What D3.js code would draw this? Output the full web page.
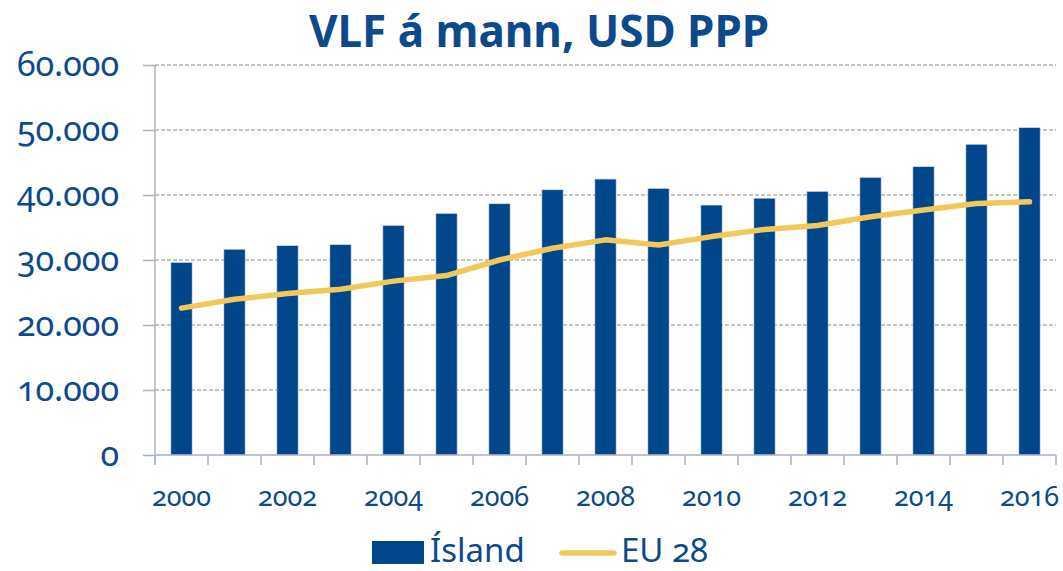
<!DOCTYPE html>
<html>
<head>
<meta charset="utf-8">
<script src="https://cdn.jsdelivr.net/npm/d3@7"></script>
<style>
  body { margin: 0; background: #fff; }
  svg text { font-family: "Noto Sans", "Open Sans", sans-serif; fill: #0d4a8c; font-feature-settings: "onum"; }
</style>
</head>
<body>
<div id="chart"></div>
<script>
// ── Data ──
const years = ['2000','2001','2002','2003','2004','2005','2006','2007','2008',
               '2009','2010','2011','2012','2013','2014','2015','2016'];
const iceland = [29600, 31650, 32200, 32350, 35300, 37150, 38650, 40800, 42450,
                 41000, 38450, 39500, 40550, 42700, 44350, 47800, 50350];
const eu28 = [22600, 23950, 24850, 25500, 26750, 27600, 30000, 31800, 33100,
              32300, 33600, 34700, 35300, 36650, 37700, 38700, 38950];
const yTicks = [0, 10000, 20000, 30000, 40000, 50000, 60000];
const xLabels = ['2000','2002','2004','2006','2008','2010','2012','2014','2016'];

const W = 1063, H = 571;
const margin = { top: 65, right: 7, bottom: 116, left: 155 };
const width = W - margin.left - margin.right;
const height = H - margin.top - margin.bottom;

const blue = '#00468b';
const gold = '#f3c85a';
const axisCol = '#a9b0cb';

const svg = d3.select('#chart').append('svg')
  .attr('width', W).attr('height', H);

// Title
svg.append('text')
  .attr('x', 539).attr('y', 47)
  .attr('text-anchor', 'middle')
  .style('font-size', '44px')
  .style('font-weight', '700')
  .style('font-feature-settings', 'normal')
  .text('VLF á mann, USD PPP');

const g = svg.append('g')
  .attr('transform', `translate(${margin.left},${margin.top})`);

const xCat = d3.scaleBand().domain(years).range([0, width]);
const x = d3.scaleBand().domain(years).range([0, width])
  .paddingInner(0.6).paddingOuter(0.3);
const y = d3.scaleLinear().domain([0, 60000]).range([height, 0]);

// Gridlines
g.selectAll('.grid')
  .data(yTicks.filter(d => d > 0))
  .enter().append('line')
  .attr('x1', 0).attr('x2', width)
  .attr('y1', d => y(d)).attr('y2', d => y(d))
  .attr('stroke', '#8c8c7c')
  .attr('stroke-width', 1)
  .attr('stroke-dasharray', '4,2');

// Bars
g.selectAll('.bar')
  .data(years)
  .enter().append('rect')
  .attr('x', d => x(d))
  .attr('y', (d, i) => y(iceland[i]))
  .attr('width', x.bandwidth())
  .attr('height', (d, i) => height - y(iceland[i]))
  .attr('fill', blue)
  .attr('stroke', '#c9d2e6')
  .attr('stroke-width', 0.6);

// Y axis
const yAxis = g.append('g')
  .call(d3.axisLeft(y).tickValues(yTicks).tickSize(12).tickPadding(24)
    .tickFormat(d => d3.format(',')(d).replace(/,/g, '.')));
yAxis.select('.domain').remove();
yAxis.selectAll('line').attr('stroke', axisCol).attr('stroke-width', 1.5);
yAxis.selectAll('text').style('font-size', '34px').attr('fill', '#0d4a8c');
g.append('line')
  .attr('x1', 0).attr('x2', 0)
  .attr('y1', y(60000)).attr('y2', height + 10)
  .attr('stroke', axisCol).attr('stroke-width', 1.5);

// X axis
g.append('line')
  .attr('x1', 0).attr('x2', width)
  .attr('y1', height).attr('y2', height)
  .attr('stroke', axisCol).attr('stroke-width', 1.5);
g.selectAll('.xtick')
  .data(years.concat(['end']))
  .enter().append('line')
  .attr('x1', d => d === 'end' ? width : xCat(d))
  .attr('x2', d => d === 'end' ? width : xCat(d))
  .attr('y1', height).attr('y2', height + 10)
  .attr('stroke', axisCol).attr('stroke-width', 1.5);
g.selectAll('.xlabel')
  .data(xLabels)
  .enter().append('text')
  .attr('x', d => xCat(d) + xCat.bandwidth() / 2)
  .attr('y', height + 51)
  .attr('text-anchor', 'middle')
  .style('font-size', '27px')
  .text(d => d);

// EU 28 line
g.append('path')
  .datum(eu28)
  .attr('fill', 'none')
  .attr('stroke', gold)
  .attr('stroke-width', 5.5)
  .attr('stroke-linecap', 'round')
  .attr('stroke-linejoin', 'round')
  .attr('d', d3.line()
    .x((d, i) => xCat(years[i]) + xCat.bandwidth() / 2)
    .y(d => y(d)));

// Legend
const legend = svg.append('g');
legend.append('rect')
  .attr('x', 372).attr('y', 541)
  .attr('width', 52).attr('height', 23)
  .attr('fill', blue);
legend.append('text')
  .attr('x', 430).attr('y', 562)
  .style('font-size', '33px')
  .text('Ísland');
legend.append('line')
  .attr('x1', 562).attr('x2', 614)
  .attr('y1', 553).attr('y2', 553)
  .attr('stroke', gold).attr('stroke-width', 5.5)
  .attr('stroke-linecap', 'round');
legend.append('text')
  .attr('x', 621).attr('y', 562)
  .style('font-size', '33px')
  .text('EU 28');
</script>
</body>
</html>
